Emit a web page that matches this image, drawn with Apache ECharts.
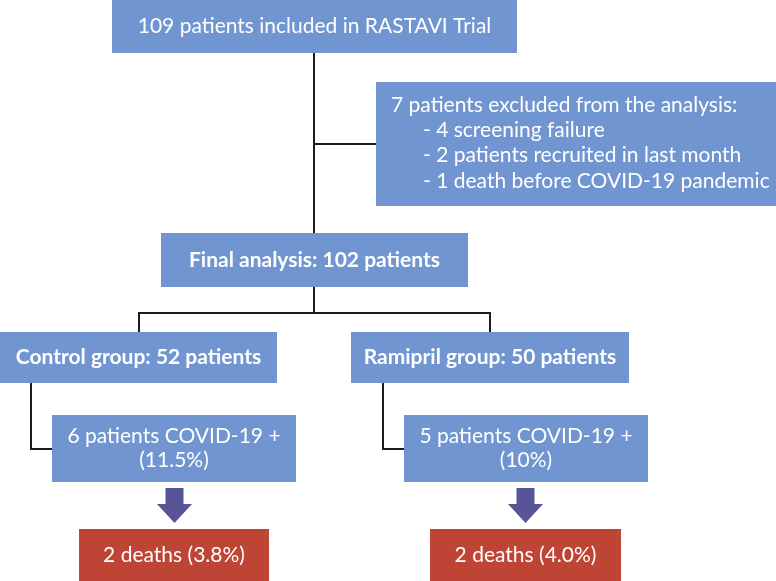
<!DOCTYPE html>
<html>
<head>
<meta charset="utf-8">
<script src="https://cdn.jsdelivr.net/npm/echarts@6/dist/echarts.min.js"></script>
<style>
html,body{margin:0;padding:0;background:#fff;}
#c{width:776px;height:581px;}
</style>
</head>
<body>
<div id="c"></div>
<script>
// ---- content (texts / counts) ----
const nodeTexts = ['109 patients included in RASTAVI Trial', 'Final analysis: 102 patients', 'Control group: 52 patients', 'Ramipril group: 50 patients'];
const exclusionLines = ['7 patients excluded from the analysis:', '- 4 screening failure', '- 2 patients recruited in last month', '- 1 death before COVID-19 pandemic'];
const covidLines = [['6 patients COVID-19 +', '(11.5%)'], ['5 patients COVID-19 +', '(10%)']];
const deathTexts = ['2 deaths (3.8%)', '2 deaths (4.0%)'];

// ---- layout (in axis units, 0..776 x 0..581) ----
const nodeBoxes = [[112, 0, 517, 53], [161, 233, 468, 287], [0, 332, 277, 383], [351, 332, 629, 383]];
const nodeBold = [false, true, true, true];
const exclusionBox = [376, 82, 776, 206];
const covidBoxes = [[52, 415, 296, 482], [404, 415, 648, 482]];
const deathBoxes = [[79, 529, 269, 581], [430, 529, 621, 581]];
const connectors = [
  [[314, 53], [314, 233]],
  [[314, 144], [376, 144]],
  [[314, 287], [314, 313]],
  [[139, 332], [139, 313], [490, 313], [490, 332]],
  [[31, 383], [31, 449], [52, 449]],
  [[383, 383], [383, 449], [404, 449]]
];
const arrows = [[174.5, 488, 504, 523], [525.5, 488, 504, 523]];

const BLUE = '#7195d1';
const RED = '#be4535';
const ARROW = '#575597';
const FONT = 'Lato';

const chart = echarts.init(document.getElementById('c'), null, {renderer: 'canvas'});

function boxRender(texts, fill, bold, multi) {
  return function (params, api) {
    const p0 = api.coord([api.value(0), api.value(1)]);
    const p1 = api.coord([api.value(2), api.value(3)]);
    const i = params.dataIndex;
    const cx = (p0[0] + p1[0]) / 2, cy = (p0[1] + p1[1]) / 2;
    const children = [{
      type: 'rect',
      shape: {x: p0[0], y: p0[1], width: p1[0] - p0[0], height: p1[1] - p0[1]},
      style: {fill: fill}
    }];
    const t = texts[i];
    const lines = Array.isArray(t) ? t : [t];
    const lh = multi || 24;
    lines.forEach(function (ln, k) {
      children.push({
        type: 'text',
        style: {
          text: ln, x: cx, y: cy + (k - (lines.length - 1) / 2) * lh,
          fill: '#fff', fontFamily: FONT, fontSize: 21,
          fontWeight: (bold && bold[i]) ? 'bold' : 'normal',
          align: 'center', verticalAlign: 'middle'
        }
      });
    });
    return {type: 'group', children: children};
  };
}

const option = {
  animation: false,
  grid: {left: 0, right: 0, top: 0, bottom: 0},
  xAxis: {type: 'value', min: 0, max: 776, show: false},
  yAxis: {type: 'value', min: 0, max: 581, inverse: true, show: false},
  series: [
    {
      type: 'lines', coordinateSystem: 'cartesian2d', polyline: true, z: 1,
      lineStyle: {color: '#1c1c1c', width: 2, opacity: 1},
      data: connectors.map(c => ({coords: c}))
    },
    {
      type: 'custom', z: 2, renderItem: boxRender(nodeTexts, BLUE, nodeBold),
      encode: {x: [0, 2], y: [1, 3]}, data: nodeBoxes
    },
    {
      type: 'custom', z: 2,
      renderItem: function (params, api) {
        const p0 = api.coord([api.value(0), api.value(1)]);
        const p1 = api.coord([api.value(2), api.value(3)]);
        const children = [{
          type: 'rect',
          shape: {x: p0[0], y: p0[1], width: p1[0] - p0[0], height: p1[1] - p0[1]},
          style: {fill: BLUE}
        }];
        exclusionLines.forEach(function (ln, k) {
          children.push({
            type: 'text',
            style: {
              text: ln, x: p0[0] + (k === 0 ? 15 : 47), y: p0[1] + 23 + k * 25.3,
              fill: '#fff', fontFamily: FONT, fontSize: 21,
              align: 'left', verticalAlign: 'middle'
            }
          });
        });
        return {type: 'group', children: children};
      },
      encode: {x: [0, 2], y: [1, 3]}, data: [exclusionBox]
    },
    {
      type: 'custom', z: 2, renderItem: boxRender(covidLines, BLUE, null, 24),
      encode: {x: [0, 2], y: [1, 3]}, data: covidBoxes
    },
    {
      type: 'custom', z: 2, renderItem: boxRender(deathTexts, RED, null),
      encode: {x: [0, 2], y: [1, 3]}, data: deathBoxes
    },
    {
      type: 'custom', z: 3,
      renderItem: function (params, api) {
        const cx = api.value(0), y0 = api.value(1), yh = api.value(2), yt = api.value(3);
        const pts = [[cx - 9, y0], [cx + 9, y0], [cx + 9, yh], [cx + 17.5, yh], [cx, yt], [cx - 17.5, yh], [cx - 9, yh]]
          .map(p => api.coord(p));
        return {type: 'polygon', shape: {points: pts}, style: {fill: ARROW}};
      },
      encode: {x: 0, y: [1, 3]}, data: arrows
    }
  ]
};
chart.setOption(option);
</script>
</body>
</html>
